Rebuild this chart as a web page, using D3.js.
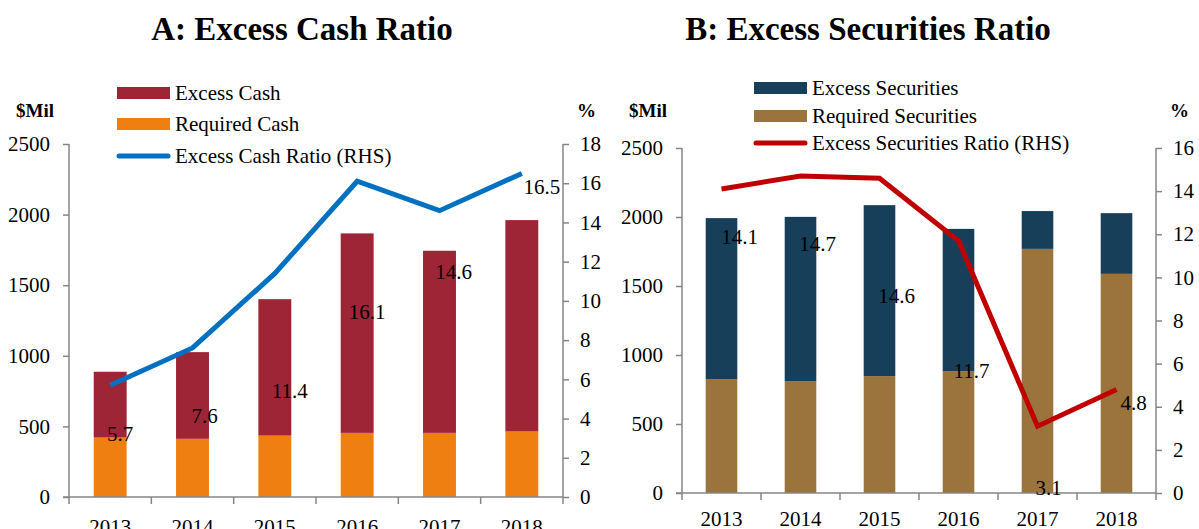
<!DOCTYPE html>
<html lang="en">
<head>
  <meta charset="UTF-8">
  <title>Excess Cash and Securities Ratios</title>
  <style>
    body { margin: 0; background: #fff; }
    svg { display: block; }
    svg text { font-family: "Liberation Serif", "Times New Roman", serif; fill: #000; }
    .title { font-size: 33px; font-weight: bold; text-anchor: middle; }
    .unit { font-size: 19px; font-weight: bold; }
    .tick text { font-size: 21px; }
    .axis path, .axis line { stroke: #868686; stroke-width: 1.5; }
    .legend text { font-size: 21px; }
    .val { font-size: 21px; }
  </style>
</head>
<body>
  <svg id="chart" width="1199" height="529"></svg>

  <script src="https://d3js.org/d3.v7.min.js"></script>
  <script>
    // Data
    const years = ["2013", "2014", "2015", "2016", "2017", "2018"];

    const requiredCash = [421, 412, 435, 454, 454, 464];
    const excessCash = [466, 614, 966, 1413, 1290, 1497];
    const excessCashRatio = [5.7, 7.6, 11.4, 16.1, 14.6, 16.5];

    const requiredSecurities = [825, 811, 847, 883, 1769, 1588];
    const excessSecurities = [1167, 1190, 1239, 1031, 274, 440];
    const excessSecuritiesRatio = [14.1, 14.7, 14.6, 11.7, 3.1, 4.8];

    const leftTicks = [0, 500, 1000, 1500, 2000, 2500];
    const rightTicksA = [0, 2, 4, 6, 8, 10, 12, 14, 16, 18];
    const rightTicksB = [0, 2, 4, 6, 8, 10, 12, 14, 16];

    // where the data labels sit relative to the line points (px)
    const labelDx = [[10, 12, 15, 10, 14, 20], [18, 17, 17, 13, 11, 17]];
    const labelDy = [48, 68, 117, 130, 61, 13];

    const svg = d3.select("#chart");

    function drawPanel(p) {
      const g = svg.append("g");

      const x = d3.scaleBand().domain(years).range([p.left, p.right]).paddingInner(0.6).paddingOuter(0.3);
      const y = d3.scaleLinear().domain([0, 2500]).range([p.bottom, p.top]);
      const yR = d3.scaleLinear().domain([0, p.rMax]).range([p.bottom, p.top]);

      // stacked bars
      const rows = years.map((yr, i) => ({ year: yr, req: p.req[i], exc: p.exc[i] }));
      g.selectAll(".req").data(rows).join("rect")
        .attr("x", d => x(d.year))
        .attr("width", x.bandwidth())
        .attr("y", d => y(d.req))
        .attr("height", d => y(0) - y(d.req))
        .attr("fill", p.reqColor);
      g.selectAll(".exc").data(rows).join("rect")
        .attr("x", d => x(d.year))
        .attr("width", x.bandwidth())
        .attr("y", d => y(d.req + d.exc))
        .attr("height", d => y(d.req) - y(d.req + d.exc))
        .attr("fill", p.excColor);

      // axes
      g.append("g").attr("class", "axis")
        .attr("transform", `translate(${p.left},0)`)
        .call(d3.axisLeft(y).tickValues(leftTicks).tickFormat(d3.format("d"))
          .tickSize(6).tickPadding(13).tickSizeOuter(0))
        .call(a => a.select(".domain").attr("d", `M0,${p.bottom}V${p.top}`))
        .attr("font-family", null).attr("font-size", null);

      g.append("g").attr("class", "axis")
        .attr("transform", `translate(${p.right},0)`)
        .call(d3.axisRight(yR).tickValues(p.rTicks).tickFormat(d3.format("d"))
          .tickSize(6).tickPadding(11).tickSizeOuter(0))
        .call(a => a.select(".domain").attr("d", `M0,${p.bottom}V${p.top}`))
        .attr("font-family", null).attr("font-size", null);

      const xb = g.append("g").attr("class", "axis")
        .attr("transform", `translate(0,${p.bottom})`)
        .call(d3.axisBottom(x).tickSize(0).tickPadding(p.xPad))
        .attr("font-family", null).attr("font-size", null);
      xb.select(".domain").attr("d", `M${p.left - 6},0H${p.right}`);
      // ticks at category boundaries
      const edges = [p.left, ...years.map(yr => x(yr) + x.bandwidth() + x.step() * 0.3)];
      xb.selectAll(".bnd").data(edges).join("line")
        .attr("x1", d => d).attr("x2", d => d)
        .attr("y1", 0).attr("y2", 7);

      // ratio line
      const line = d3.line().x((d, i) => x(years[i]) + x.bandwidth() / 2).y(d => yR(d));
      g.append("path").datum(p.ratio)
        .attr("d", line)
        .attr("fill", "none")
        .attr("stroke", p.lineColor)
        .attr("stroke-width", 5);

      // data labels
      g.selectAll(".val").data(p.ratio).join("text")
        .attr("class", "val")
        .attr("x", (d, i) => x(years[i]) + x.bandwidth() / 2 + p.labelDx[i])
        .attr("y", (d, i) => yR(d) + labelDy[i])
        .attr("dy", "0.35em")
        .attr("text-anchor", "middle")
        .text(d => d.toFixed(1));

      // titles and unit labels
      svg.append("text").attr("class", "title").attr("x", p.titleX).attr("y", 40).text(p.title);
      svg.append("text").attr("class", "unit").attr("x", p.left - 53).attr("y", p.unitY).text("$Mil");
      svg.append("text").attr("class", "unit").attr("x", p.right + 14).attr("y", p.unitY).text("%");

      // legend
      const lg = svg.append("g").attr("class", "legend");
      p.legend.forEach((it, i) => {
        const ly = p.legendY[i];
        if (it.type === "rect") {
          lg.append("rect").attr("x", p.legendX).attr("y", ly - 6).attr("width", 53).attr("height", 12).attr("fill", it.color);
        } else {
          lg.append("line").attr("x1", p.legendX + 2).attr("x2", p.legendX + 51)
            .attr("y1", ly).attr("y2", ly)
            .attr("stroke", it.color).attr("stroke-width", 5).attr("stroke-linecap", "round");
        }
        lg.append("text").attr("x", p.legendX + 58).attr("y", ly).attr("dy", "0.35em").text(it.label);
      });
    }

    drawPanel({
      title: "A: Excess Cash Ratio", titleX: 302,
      left: 69, right: 563, top: 144, bottom: 497, xPad: 22,
      rMax: 18, rTicks: rightTicksA,
      req: requiredCash, exc: excessCash, ratio: excessCashRatio,
      reqColor: "#EF7F10", excColor: "#9E2536", lineColor: "#0070C0",
      labelDx: labelDx[0], unitY: 117,
      legendX: 117, legendY: [93, 124, 156],
      legend: [
        { type: "rect", color: "#9E2536", label: "Excess Cash" },
        { type: "rect", color: "#EF7F10", label: "Required Cash" },
        { type: "line", color: "#0070C0", label: "Excess Cash Ratio (RHS)" }
      ]
    });

    drawPanel({
      title: "B: Excess Securities Ratio", titleX: 868,
      left: 682, right: 1156, top: 148, bottom: 493, xPad: 18,
      rMax: 16, rTicks: rightTicksB,
      req: requiredSecurities, exc: excessSecurities, ratio: excessSecuritiesRatio,
      reqColor: "#9B743D", excColor: "#173F5A", lineColor: "#C00000",
      labelDx: labelDx[1], unitY: 117,
      legendX: 754, legendY: [88, 116, 143],
      legend: [
        { type: "rect", color: "#173F5A", label: "Excess Securities" },
        { type: "rect", color: "#9B743D", label: "Required Securities" },
        { type: "line", color: "#C00000", label: "Excess Securities Ratio (RHS)" }
      ]
    });
  </script>
</body>
</html>
